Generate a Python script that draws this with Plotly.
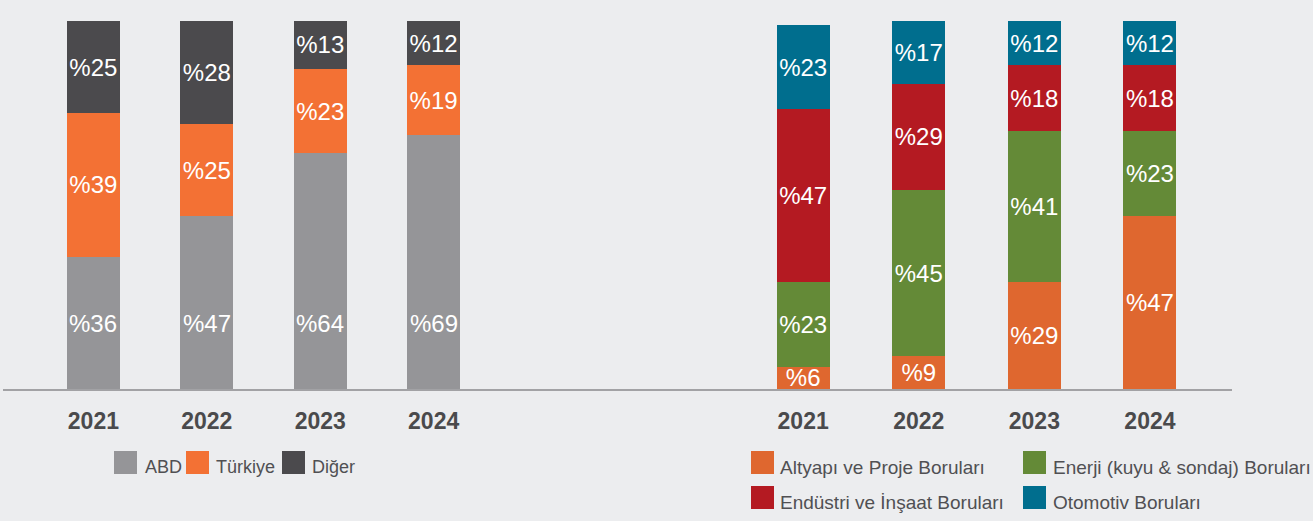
import plotly.graph_objects as go

W, H = 1313, 521

# ---------------- data ----------------
years = ["2021", "2022", "2023", "2024"]

# left chart (by region)
left_names = ["ABD", "Türkiye", "Diğer"]
abd = [36, 47, 64, 69]
turkiye = [39, 25, 23, 19]
diger = [25, 28, 13, 12]

# right chart (by product group)
right_names = ["Altyapı ve Proje Boruları", "Enerji (kuyu & sondaj) Boruları",
               "Endüstri ve İnşaat Boruları", "Otomotiv Boruları"]
altyapi = [6, 9, 29, 47]
enerji = [23, 45, 41, 23]
endustri = [47, 29, 18, 18]
otomotiv = [23, 17, 12, 12]

# ---------------- styles ----------------
BG = "#ECEDEF"
left_colors = ["#959598", "#F37134", "#4B4A4D"]
right_colors = ["#DF672F", "#648A37", "#B41A22", "#006E8E"]
FONT = "Liberation Sans, Arial, sans-serif"
LABEL_FONT = dict(color="white", size=24, family=FONT)
ABD_LABEL_Y = 17.7  # fixed label height used for the ABD segment labels


def px_x(v):
    return v / W


def px_y(v):
    return 1 - v / H


fig = go.Figure()

left_series = [abd, turkiye, diger]
for i, (name, vals) in enumerate(zip(left_names, left_series)):
    show_text = i > 0
    fig.add_trace(go.Bar(
        x=years, y=vals, name=name,
        marker=dict(color=left_colors[i], line=dict(width=0)),
        width=0.467,
        text=[f"%{v}" for v in vals] if show_text else None,
        textposition="inside" if show_text else "none",
        insidetextanchor="middle", textangle=0, constraintext="none",
        insidetextfont=LABEL_FONT,
        xaxis="x", yaxis="y", hoverinfo="skip",
    ))

right_series = [altyapi, enerji, endustri, otomotiv]
for i, (name, vals) in enumerate(zip(right_names, right_series)):
    fig.add_trace(go.Bar(
        x=years, y=vals, name=name,
        marker=dict(color=right_colors[i], line=dict(width=0)),
        width=0.4585,
        text=[f"%{v}" for v in vals],
        textposition="inside",
        insidetextanchor="middle", textangle=0, constraintext="none",
        insidetextfont=LABEL_FONT,
        xaxis="x2", yaxis="y2", hoverinfo="skip",
    ))

annotations = []
# ABD labels (placed at a fixed height near the bottom of the bars)
for idx, v in enumerate(abd):
    annotations.append(dict(x=idx, y=ABD_LABEL_Y, xref="x", yref="y", text=f"%{v}",
                            showarrow=False, font=LABEL_FONT,
                            xanchor="center", yanchor="middle"))

# manual legends (large square swatches)
shapes = []
SW = 23
left_legend = [(114, 143), (186, 214), (282, 310)]
for (sx, tx), name, col in zip(left_legend, left_names, left_colors):
    shapes.append(dict(type="rect", xref="paper", yref="paper",
                       x0=px_x(sx), x1=px_x(sx + SW), y0=px_y(451), y1=px_y(451 + SW),
                       fillcolor=col, line=dict(width=0)))
    annotations.append(dict(x=px_x(tx), y=px_y(467), xref="paper", yref="paper",
                            text=name, showarrow=False, xanchor="left", yanchor="middle",
                            font=dict(size=18, color="#505053", family=FONT)))

right_legend = [(751, 778, 451, 467), (1023, 1051, 451, 467),
                (751, 778, 486, 502), (1023, 1051, 486, 502)]
for (sx, tx, sy, ty), name, col in zip(right_legend, right_names, right_colors):
    shapes.append(dict(type="rect", xref="paper", yref="paper",
                       x0=px_x(sx), x1=px_x(sx + SW), y0=px_y(sy), y1=px_y(sy + SW),
                       fillcolor=col, line=dict(width=0)))
    annotations.append(dict(x=px_x(tx), y=px_y(ty), xref="paper", yref="paper",
                            text=name, showarrow=False, xanchor="left", yanchor="middle",
                            font=dict(size=19, color="#505053", family=FONT)))

BASE = 389
PPU = 3.68
YMAX = 102
ydom = [px_y(BASE), px_y(BASE - YMAX * PPU)]

axis_common = dict(type="category", showgrid=False, zeroline=False,
                   showline=True, linecolor="#A2A2A5", linewidth=1.5,
                   ticks="", ticklabelstandoff=11,
                   tickfont=dict(size=23, color="#4A4A4C", family=FONT, weight="bold"),
                   fixedrange=True)

fig.update_layout(
    width=W, height=H,
    margin=dict(l=0, r=0, t=0, b=0),
    paper_bgcolor=BG, plot_bgcolor=BG,
    barmode="stack", showlegend=False,
    xaxis=dict(domain=[px_x(3), px_x(616)], range=[-0.797, 4.608], anchor="y", **axis_common),
    xaxis2=dict(domain=[px_x(616), px_x(1232)], range=[-1.619, 3.710], anchor="y2", **axis_common),
    yaxis=dict(domain=ydom, range=[0, YMAX], visible=False, anchor="x", fixedrange=True),
    yaxis2=dict(domain=ydom, range=[0, YMAX], visible=False, anchor="x2", fixedrange=True),
    annotations=annotations,
    shapes=shapes,
)

fig.write_html("out.html",
               config={"displayModeBar": False},
               post_script="document.body.style.margin='0';document.body.style.padding='0';"
                           "document.body.style.background='" + BG + "';")
